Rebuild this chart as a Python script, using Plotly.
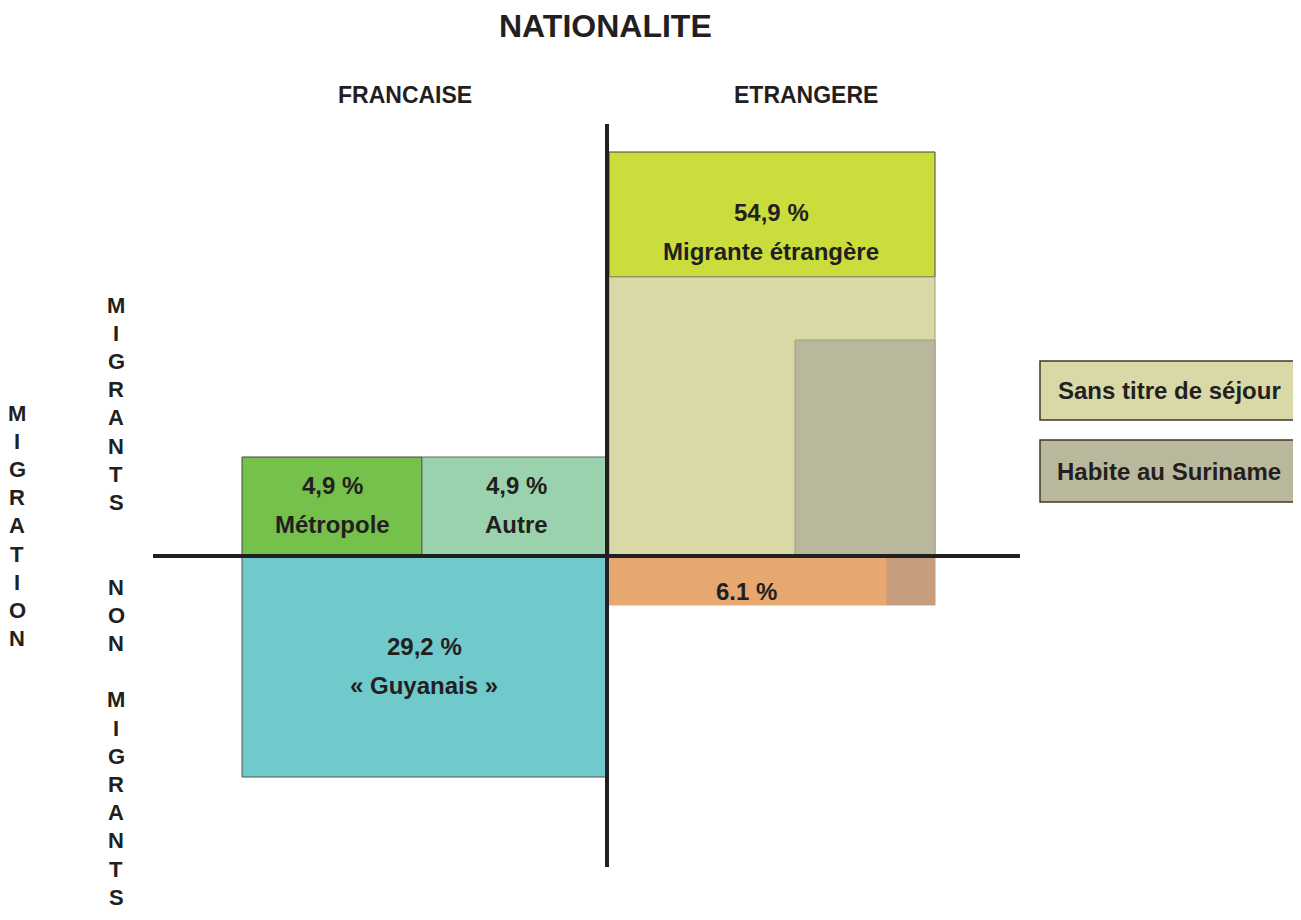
import plotly.graph_objects as go

# blocks of the diagram, in diagram units (origin = crossing of the two axes)
block_names = ["Métropole", "Autre", "« Guyanais »", "Migrante étrangère",
               "Sans titre de séjour", "Habite au Suriname", "Non migrante étrangère",
               "Non migrante Suriname"]
block_x0 = [-365, -185, -365, 2, 2, 188, 2, 280]
block_x1 = [-185, 0, 0, 328, 328, 328, 280, 328]
block_y0 = [0, 0, -221, 279, 0, 0, -49, -49]
block_y1 = [99, 99, 0, 404, 279, 216, 0, 0]

pct_labels = ["4,9 %", "4,9 %", "29,2 %", "54,9 %", "6.1 %"]
pct_names = ["Métropole", "Autre", "« Guyanais »", "Migrante étrangère", ""]
pct_x = [-275, -91, -183, 164, 139]
pct_y = [71, 71, -90, 344, -35]

legend_names = ["Sans titre de séjour", "Habite au Suriname"]
legend_y0 = [136, 54]
legend_y1 = [195, 116]

col_labels = ["FRANCAISE", "ETRANGERE"]
col_x = [-202, 199]

row_left = "MIGRATION"
row_right = "MIGRANTS  NON MIGRANTS"   # spaces = empty lines

fill_colors = ["#76c04c", "#9bd2ae", "#70c9ca", "#cbdc3d", "#d9d9a7",
               "#b9b89d", "#e6a870", "#c69d7d"]
line_colors = ["#444", "#666", "#555", "#444", "#9a9a80", "#9a9a80", "#e6a870", "#c69d7d"]
legend_fill = ["#d9d9a7", "#b9b89d"]

ink = "#231f20"
sans = "Arial, Liberation Sans, sans-serif"
bold = dict(family=sans, size=24, color=ink, weight="bold")
narrow = "Liberation Sans Narrow, Arial Narrow, Liberation Sans, sans-serif"

fig = go.Figure()

for i in range(len(block_names)):
    fig.add_shape(type="rect", xref="x", yref="y",
                  x0=block_x0[i], x1=block_x1[i], y0=block_y0[i], y1=block_y1[i],
                  fillcolor=fill_colors[i], line=dict(color=line_colors[i], width=1),
                  layer="below")

# the two axes of the cross
fig.add_shape(type="line", xref="x", yref="y", x0=-454, x1=413, y0=0, y1=0,
              line=dict(color=ink, width=4))
fig.add_shape(type="line", xref="x", yref="y", x0=0, x1=0, y0=-311, y1=432,
              line=dict(color=ink, width=4))

for i in range(len(pct_labels)):
    fig.add_annotation(x=pct_x[i], y=pct_y[i], text=pct_labels[i], showarrow=False,
                       font=bold)
    if pct_names[i]:
        fig.add_annotation(x=pct_x[i], y=pct_y[i] - 39, text=pct_names[i],
                           showarrow=False, font=bold)

# legend boxes
for i in range(len(legend_names)):
    fig.add_shape(type="rect", xref="x", yref="y", x0=433, x1=691,
                  y0=legend_y0[i], y1=legend_y1[i], fillcolor=legend_fill[i],
                  line=dict(color="#3d3d2a", width=1.5))
    fig.add_annotation(x=562, y=(legend_y0[i] + legend_y1[i]) / 2, text=legend_names[i],
                       showarrow=False, font=bold)

fig.add_annotation(x=-2, y=530, text="NATIONALITE", showarrow=False,
                   font=dict(family=narrow, size=32, color=ink, weight="bold"))
for lab, x in zip(col_labels, col_x):
    fig.add_annotation(x=x, y=461, text=lab, showarrow=False,
                       font=dict(family=narrow, size=23, color=ink, weight="bold"))

# vertical row titles, one letter per line
vfont = dict(family=sans, size=22, color=ink, weight="bold")
step = 28.2
for k, ch in enumerate(row_left):
    fig.add_annotation(x=-590, y=143 - k * step, text=ch, showarrow=False, font=vfont,
                       borderpad=0)

for k, ch in enumerate(row_right):
    if ch.strip():
        fig.add_annotation(x=-491, y=251 - k * step, text=ch, showarrow=False,
                           font=vfont, borderpad=0)

# page body has an 8px margin, so the plot spans page pixels 8..1293 / 8..912
fig.update_xaxes(range=[-599, 686], visible=False)
fig.update_yaxes(range=[-356, 548], visible=False)
fig.update_layout(width=1285, height=904, margin=dict(l=0, r=0, t=0, b=0),
                  plot_bgcolor="white", paper_bgcolor="white", showlegend=False)

fig.write_html("out.html")
